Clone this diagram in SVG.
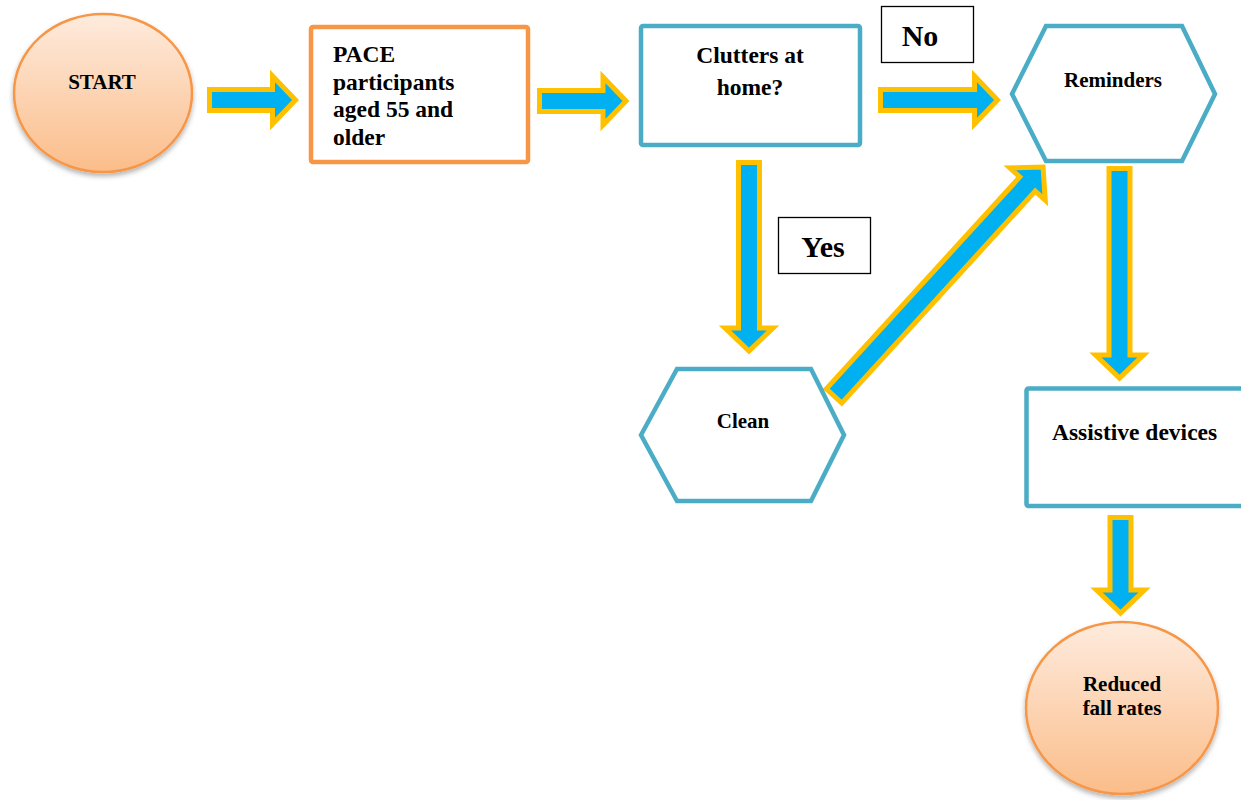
<svg xmlns="http://www.w3.org/2000/svg" width="1241" height="800" viewBox="0 0 1241 800">
<defs>
<linearGradient id="peach" x1="0" y1="0" x2="0" y2="1">
<stop offset="0" stop-color="#FEEBDD"/>
<stop offset="1" stop-color="#FBBD8A"/>
</linearGradient>
<filter id="shadow" x="-20%" y="-20%" width="140%" height="140%">
<feDropShadow dx="0" dy="3" stdDeviation="2.5" flood-color="#000" flood-opacity="0.3"/>
</filter>
</defs>
<style>
.t{font-family:"Liberation Serif","Times New Roman",serif;font-weight:bold;fill:#000}
.ell{fill:url(#peach);stroke:#F79646;stroke-width:2.5;filter:url(#shadow)}
.box{fill:#fff;stroke-width:4.5}
.orange{stroke:#F79646}
.teal{stroke:#4BACC6}
.lab{fill:#fff;stroke:#000;stroke-width:1.3}
.arrow{fill:#00B0F0;stroke:#FFC000;stroke-width:5;stroke-linejoin:miter;stroke-miterlimit:10}
</style>
<rect width="1241" height="800" fill="#fff"/>

<g id="connectors">
<path class="arrow" transform="translate(209.5,100)" d="M0,-10.5 H63 V-24 L86,0 L63,24 V10.5 H0 Z"/>
<path class="arrow" transform="translate(539.5,101)" d="M0,-10.5 H63.5 V-24 L86.5,0 L63.5,24 V10.5 H0 Z"/>
<path class="arrow" transform="translate(880.5,100)" d="M0,-10.5 H94 V-24 L117,0 L94,24 V10.5 H0 Z"/>
<path class="arrow" transform="translate(749,162.5) rotate(90)" d="M0,-10.5 H165.5 V-24 L188.5,0 L165.5,24 V10.5 H0 Z"/>
<path class="arrow" transform="translate(834,396) rotate(-47.6)" d="M0,-10.5 H287 V-24 L310,0 L287,24 V10.5 H0 Z"/>
<path class="arrow" transform="translate(1119.5,168.5) rotate(90)" d="M0,-10.5 H186.5 V-24 L209.5,0 L186.5,24 V10.5 H0 Z"/>
<path class="arrow" transform="translate(1120.5,517.5) rotate(90)" d="M0,-10.5 H72.5 V-24 L95.5,0 L72.5,24 V10.5 H0 Z"/>
</g>

<g id="start">
<ellipse class="ell" cx="103" cy="93" rx="89" ry="79"/>
<text class="t" x="102" y="89" font-size="21" text-anchor="middle">START</text>
</g>

<g id="pace">
<rect class="box orange" x="311" y="27" width="217" height="135" rx="2"/>
<text class="t" font-size="23.5"><tspan x="333" y="62">PACE</tspan><tspan x="333" y="90">participants</tspan><tspan x="333" y="117">aged 55 and</tspan><tspan x="333" y="145">older</tspan></text>
</g>

<g id="clutters">
<rect class="box teal" x="641" y="26" width="219" height="119" rx="2"/>
<text class="t" font-size="23.5" text-anchor="middle"><tspan x="750" y="63">Clutters at</tspan><tspan x="750" y="95">home?</tspan></text>
</g>

<g id="no-label">
<rect class="lab" x="881.5" y="6.5" width="92" height="56"/>
<text class="t" x="920" y="46" font-size="30" text-anchor="middle">No</text>
</g>

<g id="yes-label">
<rect class="lab" x="778.5" y="217.5" width="92" height="56"/>
<text class="t" x="823" y="257" font-size="30" text-anchor="middle">Yes</text>
</g>

<g id="reminders">
<polygon class="box teal" points="1012,94 1046,26 1182,26 1215,94 1182,161 1046,161"/>
<text class="t" x="1113" y="87" font-size="21" text-anchor="middle">Reminders</text>
</g>

<g id="clean">
<polygon class="box teal" points="641,435 677,369 811,369 844,435 811,501 677,501"/>
<text class="t" x="743" y="428" font-size="21" text-anchor="middle">Clean</text>
</g>

<g id="assistive">
<rect class="box teal" x="1026.5" y="388.5" width="240" height="117.5" rx="2"/>
<text class="t" x="1052" y="440" font-size="23.5">Assistive devices</text>
</g>

<g id="reduced">
<ellipse class="ell" cx="1122" cy="708" rx="96" ry="86"/>
<text class="t" font-size="21" text-anchor="middle"><tspan x="1122" y="691">Reduced</tspan><tspan x="1122" y="715">fall rates</tspan></text>
</g>
</svg>
